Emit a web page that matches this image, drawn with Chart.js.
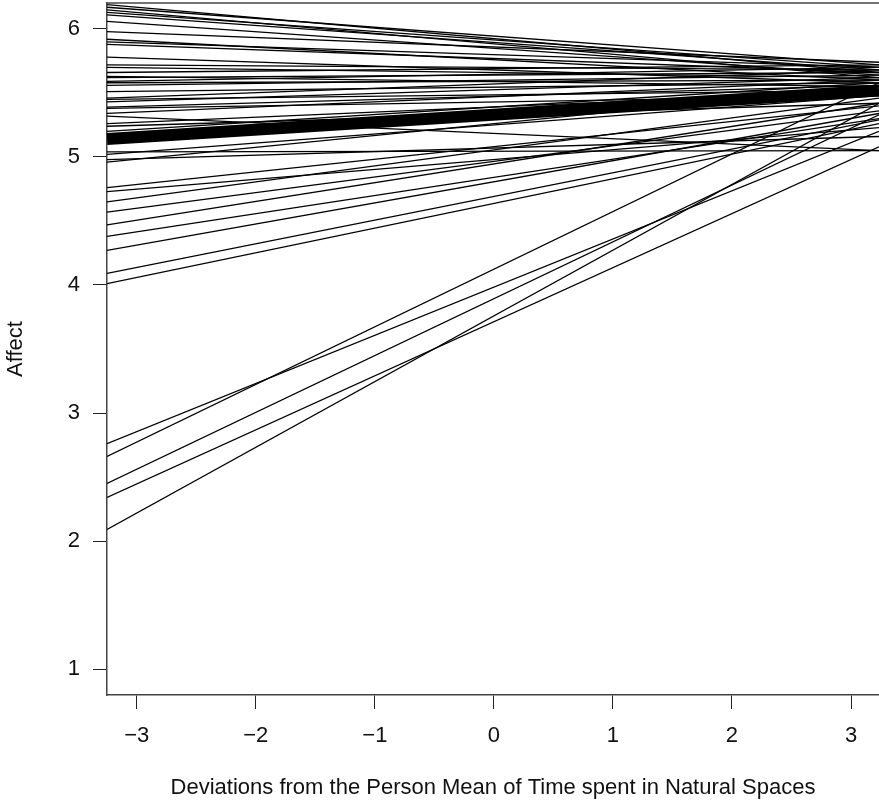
<!DOCTYPE html>
<html>
<head>
<meta charset="utf-8">
<script src="https://cdn.jsdelivr.net/npm/chart.js@4.4.1/dist/chart.umd.min.js"></script>
<style>
  html, body { margin: 0; padding: 0; background: #fff; }
  #wrap { width: 879px; height: 801px; }
</style>
</head>
<body>
<div id="wrap"><canvas id="chart" width="879" height="801"></canvas></div>
<script>
// lines run across the whole plot (abline style), so x ends are the axis limits
const xLeft = -3.25
const xRight = 3.235

// fitted value of each person at the left and right edge
const leftValues = [
  6.19, 6.17, 6.15, 6.13, 6.11, 6.06, 5.98, 5.92, 5.90, 5.88,
  5.78, 5.72, 5.70, 5.66, 5.63, 5.62, 5.59, 5.58, 5.56, 5.51,
  5.46, 5.45, 5.43, 5.39, 5.38, 5.34, 5.32, 5.26, 5.24, 5.20,
  5.04, 5.02, 4.98, 4.96, 4.76, 4.73, 4.65, 4.57, 4.47, 4.38,
  4.27, 4.09, 4.01,
  2.76, 2.66, 2.45, 2.34, 2.09
]
const rightValues = [
  5.66, 5.72, 5.62, 5.70, 5.68, 5.64, 5.74, 5.60, 5.70, 5.66,
  5.58, 5.68, 5.62, 5.72, 5.55, 5.66, 5.70, 5.60, 5.64, 5.58,
  5.68, 5.52, 5.62, 5.56, 5.48, 5.60, 5.05, 5.52, 5.42, 5.58,
  5.05, 5.48, 5.16, 5.56, 5.40, 5.23, 5.46, 5.36, 5.42, 5.30,
  5.34, 5.29, 5.26,
  5.20, 5.58, 5.33, 5.08, 5.42
]

// average line (drawn thick)
const meanLeft = 5.14
const meanRight = 5.52

const datasets = leftValues.map((l, i) => ({
  data: [{ x: xLeft, y: l }, { x: xRight, y: rightValues[i] }],
  borderColor: '#000',
  borderWidth: 1.3,
  pointRadius: 0
}))
datasets.push({
  data: [{ x: xLeft, y: meanLeft }, { x: xRight, y: meanRight }],
  borderColor: '#000',
  borderWidth: 12,
  pointRadius: 0
})

// top edge of the plot box
const boxTop = {
  id: 'boxTop',
  afterDraw (chart) {
    const { ctx, chartArea } = chart
    ctx.save()
    ctx.strokeStyle = '#444'
    ctx.lineWidth = 1.5
    ctx.beginPath()
    ctx.moveTo(chartArea.left, chartArea.top)
    ctx.lineTo(chartArea.right + 1, chartArea.top)
    ctx.stroke()
    ctx.restore()
  }
}

const font = { family: 'Liberation Sans, Arial, sans-serif', size: 22 }

new Chart(document.getElementById('chart'), {
  type: 'line',
  data: { datasets },
  plugins: [boxTop],
  options: {
    responsive: false,
    animation: false,
    layout: { padding: { top: 3, right: 0, left: 0, bottom: 0 } },
    plugins: { legend: { display: false }, tooltip: { enabled: false } },
    scales: {
      x: {
        type: 'linear',
        min: xLeft,
        max: xRight,
        afterFit: (s) => {
          s.height = 106
          s.paddingLeft = 0
          s.paddingRight = 0
        },
        border: { display: true, color: '#444', width: 1.5 },
        grid: { drawOnChartArea: false, drawTicks: true, tickLength: 14, tickColor: '#222', tickWidth: 1 },
        ticks: {
          stepSize: 1,
          includeBounds: false,
          padding: 14,
          color: '#111',
          font,
          maxRotation: 0,
          callback: (v) => (v < 0 ? '\u2212' + Math.abs(v) : String(v))
        },
        title: {
          display: true,
          text: 'Deviations from the Person Mean of Time spent in Natural Spaces',
          color: '#111',
          font,
          padding: { top: 0, bottom: 0 }
        }
      },
      y: {
        type: 'linear',
        min: 0.797,
        max: 6.203,
        afterFit: (s) => {
          s.width = 107
          s.paddingTop = 0
          s.paddingBottom = 0
        },
        border: { display: true, color: '#444', width: 1.5 },
        grid: { drawOnChartArea: false, drawTicks: true, tickLength: 14, tickColor: '#222', tickWidth: 1 },
        ticks: {
          stepSize: 1,
          includeBounds: false,
          padding: 13,
          color: '#111',
          font
        },
        title: {
          display: true,
          text: 'Affect',
          color: '#111',
          font,
          padding: { top: 3, bottom: 3 }
        }
      }
    }
  }
})
</script>
</body>
</html>
